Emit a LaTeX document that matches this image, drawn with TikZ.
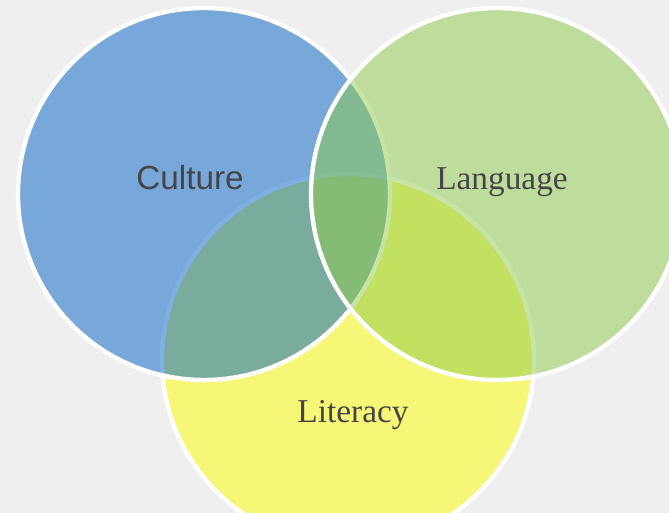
\documentclass[tikz,border=0pt]{standalone}
\usepackage{fontspec}
\setmainfont{Liberation Serif}
\setsansfont{Liberation Sans}
\usepackage{xcolor}
\usepackage{tikz}
\definecolor{pagebg}{HTML}{EFEFEF}
\definecolor{cultureblue}{HTML}{0063C5}
\definecolor{languagegreen}{HTML}{8FCD4D}
\definecolor{literacyyellow}{HTML}{FDFD00}
\definecolor{labelgray}{HTML}{454545}

\begin{document}
\begin{tikzpicture}[x=0.75pt, y=-0.75pt,
  venn/.style={circle, draw=white, line width=3.3pt, fill opacity=0.5, minimum size=279pt, inner sep=0pt},
  tag/.style={text=labelgray, font=\fontsize{25}{30}\selectfont, anchor=base}
]
  \fill[pagebg] (0,0) rectangle (669,513);
  \useasboundingbox (0,0) rectangle (669,513);

  % bottom circle first, the other two lie over it
  \node[venn, fill=literacyyellow] (literacy) at (348,360) {};
  \node[venn, fill=cultureblue] (culture) at (204,194) {};
  \node[venn, fill=languagegreen] (language) at (497,194) {};

  \node[tag, font=\sffamily\fontsize{25}{30}\selectfont] (culturetext) at (190,190) {Culture};
  \node[tag] (languagetext) at (502,190) {Language};
  \node[tag] (literacytext) at (353,423) {Literacy};
\end{tikzpicture}
\end{document}
